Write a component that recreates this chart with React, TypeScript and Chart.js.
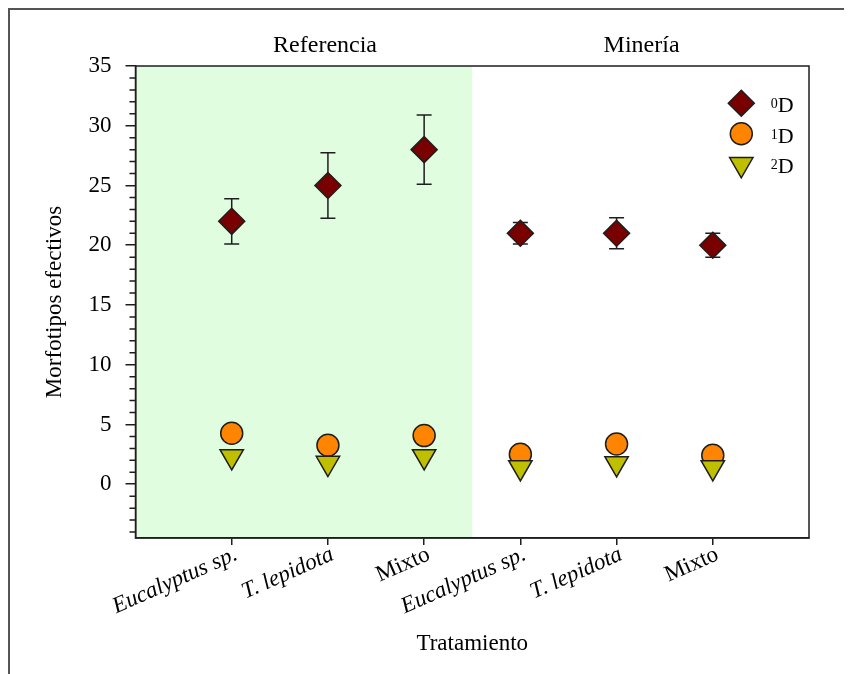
import React, { useEffect, useRef } from 'react';
import { Chart, registerables } from 'chart.js';

Chart.register(...registerables);

// Treatments along the x axis (positions 1..6 on a 0..7 linear scale)
const categories = ['Eucalyptus sp.', 'T. lepidota', 'Mixto', 'Eucalyptus sp.', 'T. lepidota', 'Mixto'];
const italicCategory = [true, true, false, true, true, false];
const categoryPositions = [1, 2, 3, 4, 5, 6];

// Site groups shown above the plot
const groupNames = ['Referencia', 'Minería'];
const groupCenters = [1.97, 5.26];
const referenciaRange = [0, 3.5];

// Hill numbers (effective morphotypes)
const d0Values = [22, 25, 28, 21, 21, 20];
const d0Errors = [1.9, 2.75, 2.9, 0.9, 1.3, 1.0];
const d1Values = [4.27, 3.26, 4.07, 2.5, 3.37, 2.42];
const d2Values = [2.33, 1.77, 2.33, 1.41, 1.74, 1.41];

// Axis ticks
const yMajorTicks = [0, 5, 10, 15, 20, 25, 30, 35];
const yMin = -4.5;
const yMax = 35;
const xMin = 0;
const xMax = 7;

const seriesOrders = ['0', '1', '2'];
const seriesColors = ['#780000', '#ff8400', '#bfbf00'];
const seriesStyles = ['rectRot', 'circle', 'triangle'];
const seriesRadii = [13, 11, 13.5];
const seriesRotations = [0, 0, 180];

const SERIF = "'Liberation Serif', 'Times New Roman', serif";
const INK = '#1e1e1e';
const LABEL_ANGLE = (24 * Math.PI) / 180;

function markerPath(ctx: CanvasRenderingContext2D, style: string, x: number, y: number, r: number) {
  ctx.beginPath();
  if (style === 'rectRot') {
    ctx.moveTo(x - r, y);
    ctx.lineTo(x, y - r);
    ctx.lineTo(x + r, y);
    ctx.lineTo(x, y + r);
    ctx.closePath();
  } else if (style === 'circle') {
    ctx.arc(x, y, r, 0, Math.PI * 2);
  } else {
    ctx.moveTo(x, y + r);
    ctx.lineTo(x - 0.866 * r, y - 0.5 * r);
    ctx.lineTo(x + 0.866 * r, y - 0.5 * r);
    ctx.closePath();
  }
}

const decorPlugin = {
  id: 'decor',
  beforeDraw(chart: any) {
    const { ctx, chartArea, scales } = chart;
    const x0 = scales.x.getPixelForValue(referenciaRange[0]);
    const x1 = scales.x.getPixelForValue(referenciaRange[1]);
    ctx.save();
    ctx.fillStyle = '#e0fde0';
    ctx.fillRect(x0, chartArea.top, x1 - x0, chartArea.bottom - chartArea.top);
    ctx.restore();
  },
  beforeDatasetsDraw(chart: any) {
    const { ctx, scales } = chart;
    ctx.save();
    ctx.strokeStyle = INK;
    ctx.lineWidth = 1.5;
    categoryPositions.forEach((pos, i) => {
      const x = scales.x.getPixelForValue(pos);
      const yTop = scales.y.getPixelForValue(d0Values[i] + d0Errors[i]);
      const yBot = scales.y.getPixelForValue(d0Values[i] - d0Errors[i]);
      const cap = 7.5;
      ctx.beginPath();
      ctx.moveTo(x, yTop);
      ctx.lineTo(x, yBot);
      ctx.moveTo(x - cap, yTop);
      ctx.lineTo(x + cap, yTop);
      ctx.moveTo(x - cap, yBot);
      ctx.lineTo(x + cap, yBot);
      ctx.stroke();
    });
    ctx.restore();
  },
  afterDraw(chart: any) {
    const { ctx, chartArea, scales } = chart;
    ctx.save();
    // plot frame
    ctx.strokeStyle = INK;
    ctx.lineWidth = 1.5;
    ctx.strokeRect(chartArea.left, chartArea.top, chartArea.right - chartArea.left, chartArea.bottom - chartArea.top);

    // minor ticks on the y axis
    ctx.beginPath();
    for (let v = Math.ceil(yMin); v < yMax; v++) {
      if (v % 5 === 0) continue;
      const y = scales.y.getPixelForValue(v);
      ctx.moveTo(chartArea.left - 6, y);
      ctx.lineTo(chartArea.left, y);
    }
    ctx.stroke();

    // slanted treatment names under the x ticks
    ctx.fillStyle = '#000';
    ctx.textAlign = 'right';
    ctx.textBaseline = 'alphabetic';
    categoryPositions.forEach((pos, i) => {
      const x = scales.x.getPixelForValue(pos);
      ctx.save();
      ctx.translate(x + 7, chartArea.bottom + 21);
      ctx.rotate(-LABEL_ANGLE);
      ctx.font = `${italicCategory[i] ? 'italic ' : ''}23px ${SERIF}`;
      ctx.fillText(categories[i], 0, 0);
      ctx.restore();
    });

    // group labels above the plot
    ctx.font = `24px ${SERIF}`;
    ctx.textAlign = 'center';
    ctx.textBaseline = 'middle';
    groupNames.forEach((name, i) => {
      ctx.fillText(name, scales.x.getPixelForValue(groupCenters[i]), chartArea.top - 20);
    });

    // legend
    const lx = chartArea.right - 67.7;
    seriesOrders.forEach((ord, i) => {
      const ly = chartArea.top + 37.3 + i * 30.5;
      markerPath(ctx, seriesStyles[i], lx, ly, seriesRadii[i]);
      ctx.fillStyle = seriesColors[i];
      ctx.fill();
      ctx.lineWidth = 1.5;
      ctx.strokeStyle = INK;
      ctx.stroke();
      ctx.fillStyle = '#000';
      ctx.textAlign = 'left';
      ctx.textBaseline = 'alphabetic';
      ctx.font = `14px ${SERIF}`;
      ctx.fillText(ord, lx + 29.5, ly + 5);
      const w = ctx.measureText(ord).width;
      ctx.font = `22px ${SERIF}`;
      ctx.fillText('D', lx + 29.5 + w, ly + 8.8);
    });
    ctx.restore();
  },
};

export default function App() {
  const canvasRef = useRef<HTMLCanvasElement | null>(null);

  useEffect(() => {
    const canvas = canvasRef.current;
    if (!canvas) return;
    const makeData = (vals: number[]) => vals.map((v, i) => ({ x: categoryPositions[i], y: v }));
    const seriesValues = [d0Values, d1Values, d2Values];
    const chart = new Chart(canvas, {
      type: 'scatter',
      data: {
        datasets: seriesValues.map((vals, i) => ({
          label: seriesOrders[i] + 'D',
          data: makeData(vals),
          pointStyle: seriesStyles[i] as any,
          pointRadius: seriesRadii[i],
          pointRotation: seriesRotations[i],
          backgroundColor: seriesColors[i],
          borderColor: INK,
          pointBorderWidth: 1.5,
          order: 2 - i,
        })),
      },
      options: {
        responsive: false,
        animation: false,
        devicePixelRatio: 1,
        layout: { padding: { left: 0, top: 56, right: 43, bottom: 0 } },
        plugins: { legend: { display: false }, tooltip: { enabled: false } },
        scales: {
          x: {
            type: 'linear',
            min: xMin,
            max: xMax,
            afterBuildTicks: (scale: any) => {
              scale.ticks = categoryPositions.map((v) => ({ value: v }));
            },
            afterFit: (scale: any) => {
              scale.height = 136;
            },
            grid: { drawOnChartArea: false, drawTicks: true, tickLength: 7, color: INK, lineWidth: 1.5 },
            border: { display: true, color: INK, width: 1.5 },
            ticks: { display: false },
            title: {
              display: true,
              text: 'Tratamiento',
              color: '#000',
              font: { family: SERIF, size: 23 },
              padding: { top: 4, bottom: 16 },
            },
          },
          y: {
            type: 'linear',
            min: yMin,
            max: yMax,
            afterBuildTicks: (scale: any) => {
              scale.ticks = yMajorTicks.map((v) => ({ value: v }));
            },
            afterFit: (scale: any) => {
              scale.width = 125.5;
            },
            grid: { drawOnChartArea: false, drawTicks: true, tickLength: 10, color: INK, lineWidth: 1.5 },
            border: { display: true, color: INK, width: 1.5 },
            ticks: {
              padding: 14,
              color: '#000',
              font: { family: SERIF, size: 23 },
              callback: (value: any) => String(value),
            },
            title: {
              display: true,
              text: 'Morfotipos efectivos',
              color: '#000',
              font: { family: SERIF, size: 23 },
              padding: { top: 31, bottom: 4 },
            },
          },
        },
      },
      plugins: [decorPlugin],
    });
    return () => chart.destroy();
  }, []);

  return (
    <div
      style={{
        position: 'relative',
        width: 844,
        height: 666,
        boxSizing: 'border-box',
        borderTop: '2px solid #555',
        borderLeft: '2px solid #555',
        background: '#fff',
      }}
    >
      <canvas ref={canvasRef} width={842} height={664} style={{ display: 'block', width: 842, height: 664 }} />
    </div>
  );
}
